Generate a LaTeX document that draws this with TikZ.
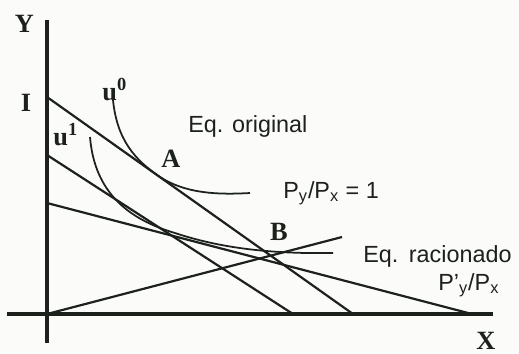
\documentclass[tikz,border=0pt]{standalone}
\usepackage{fontspec}
\setmainfont{Liberation Sans}
\newfontfamily\serifb{Liberation Serif}
\definecolor{ink}{HTML}{1C211C}
\definecolor{paper}{HTML}{FBFCF9}
\begin{document}
\begin{tikzpicture}[x=0.02cm,y=-0.02cm,
  axis/.style={line width=1.8pt,draw=ink},
  budget/.style={line width=1.25pt,draw=ink},
  indiff/.style={line width=1.0pt,draw=ink},
  lab/.style={font=\fontsize{13.3}{15}\selectfont,text=ink,inner sep=0pt},
  blab/.style={font=\serifb\bfseries\fontsize{15}{17}\selectfont,text=ink,inner sep=0pt}]
\fill[paper] (0,0) rectangle (519,353);
\useasboundingbox (0,0) rectangle (519,353);
% axes
\coordinate (ytop) at (47,20);
\coordinate (ybot) at (47,343);
\coordinate (xl) at (7,314);
\coordinate (xr) at (493,314);
\coordinate (O) at (47,314);
% budget lines
\coordinate (I0) at (47,97);
\coordinate (X0) at (353,314);
\coordinate (I1) at (47,155);
\coordinate (X1) at (293,314);
\coordinate (I2) at (47,203);
\coordinate (X2) at (472,314);
\coordinate (R) at (342,237);
% indifference curves
\coordinate (u0s) at (113,100);
\coordinate (u0t) at (160,177);
\coordinate (u0e) at (250,193);
\coordinate (u1s) at (90,137);
\coordinate (u1t) at (175,233);
\coordinate (u1e) at (333,253);

\draw[axis] (ytop) -- (ybot);
\draw[axis] (xl) -- (xr);
\draw[budget] (I0) -- (X0);
\draw[budget] (I1) -- (X1);
\draw[budget] (I2) -- (X2);
\draw[budget] (O) -- (R);
\draw[indiff] (u0s) .. controls (117,140) and (135,160) .. (u0t)
  .. controls (185,193) and (215,195) .. (u0e);
\draw[indiff] (u1s) .. controls (94,185) and (120,217) .. (u1t)
  .. controls (220,248) and (270,254) .. (u1e);

% labels
\node[blab] (lY) at (24.5,24) {Y};
\node[blab] (lI) at (26,103) {I};
\node[blab] (lX) at (486,341) {X};
\node[blab] (lA) at (171,159) {A};
\node[blab] (lB) at (279,232) {B};
\node[blab,anchor=base west] (lu0) at (102,100) {u\textsuperscript{0}};
\node[blab,anchor=base west] (lu1) at (53,145) {u\textsuperscript{1}};
\node[lab,anchor=base west] (eqo) at (188,132) {Eq. original};
\node[lab,anchor=base west] (eqr) at (363,262) {Eq.\hspace{0.45em}racionado};
\node[lab,anchor=base west] (p1) at (283,198) {P\textsubscript{y}/P\textsubscript{x} = 1};
\node[lab,anchor=base west] (p2) at (438,290) {P'\textsubscript{y}/P\textsubscript{x}};
\end{tikzpicture}
\end{document}
